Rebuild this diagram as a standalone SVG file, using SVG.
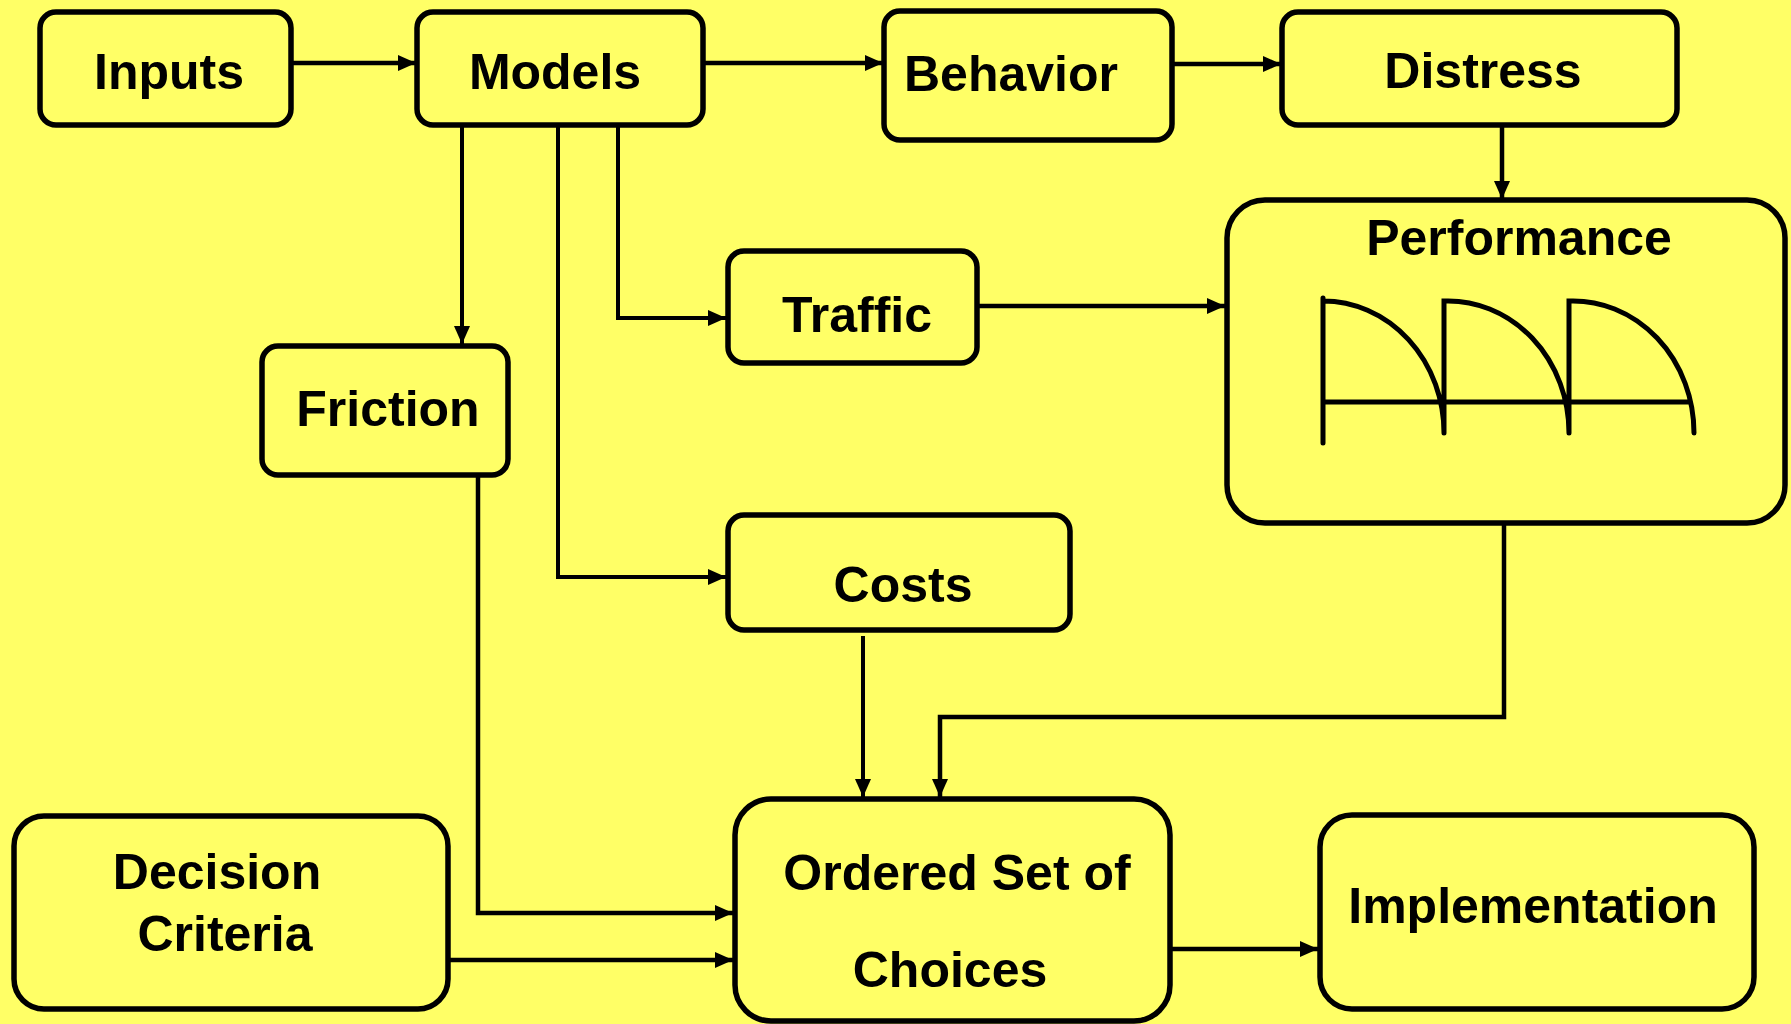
<svg xmlns="http://www.w3.org/2000/svg" width="1791" height="1024" viewBox="0 0 1791 1024">
<style>
.box{fill:#FFFF66;stroke:#000;stroke-width:5.5}
.lbl{font-family:"Liberation Sans",Arial,sans-serif;font-weight:bold;font-size:50px;fill:#000;text-anchor:middle}
.con{fill:none;stroke:#000;stroke-width:4.5;marker-end:url(#ah)}
.thin{stroke-width:4}
.plot{fill:none;stroke:#000;stroke-width:5;stroke-linecap:round}
</style>
<defs>
<marker id="ah" markerUnits="userSpaceOnUse" markerWidth="18" markerHeight="16" refX="18" refY="8" orient="auto">
<path d="M0,0 L18,8 L0,16 Z" fill="#000"/>
</marker>
</defs>
<rect width="1791" height="1024" fill="#FFFF66"/>
<g id="connectors">
<path class="con" d="M291,63 H416"/>
<path class="con" d="M703,63 H883"/>
<path class="con" d="M1172,64 H1281"/>
<path class="con" d="M1502,126 V199"/>
<path class="con thin" d="M462,126 V344"/>
<path class="con thin" d="M618,126 V318 H726"/>
<path class="con thin" d="M558,126 V577 H726"/>
<path class="con" d="M977,306 H1225"/>
<path class="con thin" d="M863,636 V797"/>
<path class="con" d="M1504,523 V717 H940 V797"/>
<path class="con" d="M478,475 V913 H733"/>
<path class="con" d="M448,960 H733"/>
<path class="con" d="M1170,949 H1318"/>
</g>
<g id="inputs"><rect class="box" x="40" y="12" width="251" height="113" rx="16"/><text class="lbl" x="169" y="89">Inputs</text></g>
<g id="models"><rect class="box" x="417" y="12" width="286" height="113" rx="16"/><text class="lbl" x="555" y="89">Models</text></g>
<g id="behavior"><rect class="box" x="884" y="11" width="288" height="129" rx="16"/><text class="lbl" x="1011" y="91">Behavior</text></g>
<g id="distress"><rect class="box" x="1282" y="12" width="395" height="113" rx="16"/><text class="lbl" x="1483" y="88">Distress</text></g>
<g id="performance"><rect class="box" x="1227" y="200" width="558" height="323" rx="38"/><text class="lbl" x="1519" y="255">Performance</text>
<path class="plot" d="M1323,298 V443 M1323,402 H1688 M1323,301 A121 132 0 0 1 1444,433 M1444,433 V301 A121 132 0 0 1 1569,433 M1569,433 V301 A121 132 0 0 1 1694,433"/>
</g>
<g id="traffic"><rect class="box" x="728" y="251" width="249" height="112" rx="16"/><text class="lbl" x="857" y="332">Traffic</text></g>
<g id="friction"><rect class="box" x="262" y="346" width="246" height="129" rx="16"/><text class="lbl" x="388" y="426">Friction</text></g>
<g id="costs"><rect class="box" x="728" y="515" width="342" height="115" rx="16"/><text class="lbl" x="903" y="602">Costs</text></g>
<g id="decision"><rect class="box" x="14" y="816" width="434" height="193" rx="30"/><text class="lbl" x="217" y="889">Decision</text><text class="lbl" x="225" y="951">Criteria</text></g>
<g id="ordered"><rect class="box" x="735" y="799" width="435" height="222" rx="36"/><text class="lbl" x="957" y="890">Ordered Set of</text><text class="lbl" x="950" y="987">Choices</text></g>
<g id="implementation"><rect class="box" x="1320" y="815" width="434" height="194" rx="32"/><text class="lbl" x="1533" y="923">Implementation</text></g>
</svg>
